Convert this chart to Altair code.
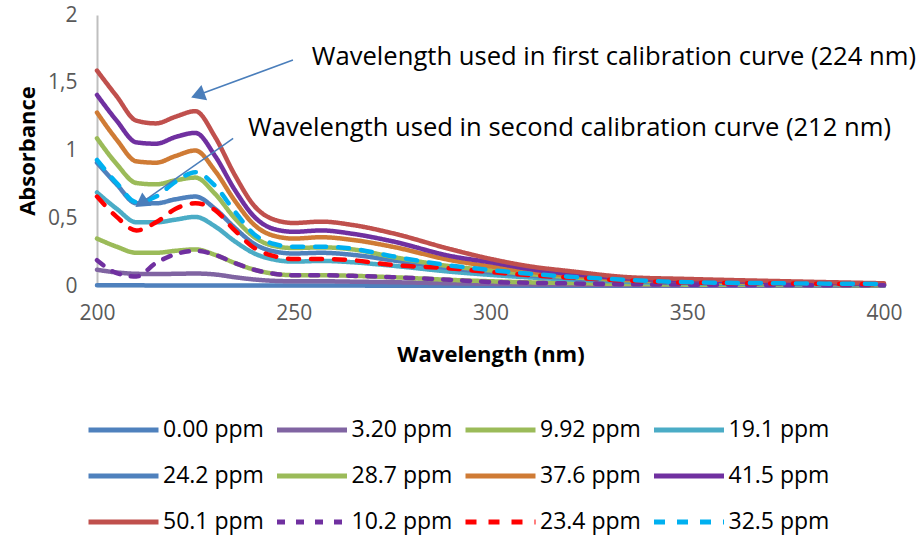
import altair as alt
import pandas as pd

FONT = "Open Sans"

# ---- data ----
wavelengths = [200, 205, 210, 215, 220, 225, 230, 235, 240, 245, 250, 257, 265, 275,
               290, 300, 310, 320, 335, 350, 375, 400]

series_names = ["0.00 ppm", "3.20 ppm", "9.92 ppm", "19.1 ppm", "24.2 ppm", "28.7 ppm",
                "37.6 ppm", "41.5 ppm", "50.1 ppm", "10.2 ppm", "23.4 ppm", "32.5 ppm"]
series_colors = ["#4F81BD", "#8064A2", "#9BBB59", "#4BACC6", "#4F81BD", "#9BBB59",
                 "#CF7B35", "#7030A0", "#C0504D", "#7030A0", "#FF0000", "#00B0F0"]
dashed_names = ["10.2 ppm", "23.4 ppm", "32.5 ppm"]
dash_patterns = [[8, 11], [11, 12], [11, 12]]

s_000 = [0.006, 0.005, 0.005, 0.004, 0.004, 0.004, 0.004, 0.003, 0.003, 0.003, 0.003, 0.003,
         0.003, 0.002, 0.002, 0.002, 0.002, 0.002, 0.002, 0.002, 0.002, 0.002]
s_320 = [0.12, 0.10, 0.09, 0.088, 0.09, 0.092, 0.085, 0.065, 0.048, 0.038, 0.035, 0.035,
         0.032, 0.028, 0.02, 0.016, 0.012, 0.01, 0.007, 0.005, 0.004, 0.003]
s_992 = [0.35, 0.29, 0.245, 0.245, 0.26, 0.27, 0.23, 0.17, 0.12, 0.09, 0.08, 0.08,
         0.075, 0.065, 0.045, 0.035, 0.027, 0.022, 0.015, 0.01, 0.008, 0.005]
s_191 = [0.69, 0.57, 0.47, 0.47, 0.49, 0.51, 0.44, 0.33, 0.24, 0.195, 0.18, 0.185,
         0.175, 0.15, 0.105, 0.082, 0.063, 0.048, 0.03, 0.02, 0.014, 0.008]
s_242 = [0.91, 0.75, 0.61, 0.61, 0.64, 0.66, 0.57, 0.43, 0.31, 0.255, 0.24, 0.245,
         0.23, 0.19, 0.13, 0.10, 0.077, 0.058, 0.036, 0.024, 0.016, 0.01]
s_287 = [1.09, 0.90, 0.76, 0.75, 0.78, 0.80, 0.68, 0.50, 0.36, 0.295, 0.28, 0.285,
         0.27, 0.215, 0.145, 0.115, 0.088, 0.066, 0.042, 0.028, 0.019, 0.012]
s_376 = [1.28, 1.08, 0.92, 0.91, 0.96, 1.00, 0.85, 0.63, 0.45, 0.37, 0.35, 0.36,
         0.34, 0.29, 0.19, 0.145, 0.105, 0.078, 0.048, 0.036, 0.024, 0.013]
s_415 = [1.41, 1.22, 1.06, 1.05, 1.10, 1.13, 0.96, 0.71, 0.51, 0.42, 0.40, 0.41,
         0.385, 0.33, 0.22, 0.175, 0.125, 0.09, 0.055, 0.042, 0.028, 0.015]
s_501 = [1.59, 1.40, 1.22, 1.20, 1.25, 1.29, 1.10, 0.82, 0.59, 0.49, 0.465, 0.475,
         0.45, 0.39, 0.27, 0.20, 0.145, 0.11, 0.065, 0.052, 0.035, 0.02]
s_102 = [0.19, 0.095, 0.07, 0.17, 0.235, 0.26, 0.23, 0.17, 0.12, 0.09, 0.08, 0.08,
         0.075, 0.065, 0.045, 0.03, 0.024, 0.019, 0.013, 0.01, 0.007, 0.005]
s_234 = [0.66, 0.51, 0.41, 0.47, 0.57, 0.61, 0.56, 0.41, 0.28, 0.22, 0.20, 0.20,
         0.19, 0.155, 0.13, 0.103, 0.08, 0.063, 0.04, 0.025, 0.018, 0.013]
s_325 = [0.93, 0.76, 0.62, 0.66, 0.77, 0.84, 0.74, 0.55, 0.38, 0.31, 0.29, 0.29,
         0.275, 0.22, 0.15, 0.118, 0.09, 0.069, 0.045, 0.028, 0.02, 0.015]

series_values = [s_000, s_320, s_992, s_191, s_242, s_287, s_376, s_415, s_501,
                 s_102, s_234, s_325]

series_dashes = []
for n in series_names:
    if n in dashed_names:
        series_dashes.append(dash_patterns[dashed_names.index(n)])
    else:
        series_dashes.append([1, 0])

# annotations
ann_texts = ["Wavelength used in first calibration curve (224 nm)",
             "Wavelength used in second calibration curve (212 nm)"]
ann_text_wl = [254.6, 238.4]
ann_text_abs = [1.69, 1.166]
arrow_start_wl = [249.8, 234.6]
arrow_start_abs = [1.668, 1.09]
arrow_head_wl = [226.15, 211.7]
arrow_head_abs = [1.415, 0.622]
arrow_angle = [249.7, 235.0]

# ---- build tables ----
rows = []
for name, vals in zip(series_names, series_values):
    for w, v in zip(wavelengths, vals):
        rows.append({"wl": w, "abs": v, "series": name})
df = pd.DataFrame(rows)

ann_df = pd.DataFrame({"wl": ann_text_wl, "abs": ann_text_abs, "text": ann_texts})
arr_df = pd.DataFrame({"x1": arrow_start_wl, "y1": arrow_start_abs,
                       "x2": arrow_head_wl, "y2": arrow_head_abs, "ang": arrow_angle})

xscale = alt.Scale(domain=[200, 400], nice=False)
yscale = alt.Scale(domain=[0, 2], nice=False)

legend = alt.Legend(title=None, orient="none", legendX=-11, legendY=392, direction="horizontal",
                    columns=4, symbolType="stroke", symbolSize=4900,
                    symbolStrokeWidth=5, labelFontSize=23, labelFont=FONT,
                    labelColor="#000000", labelOffset=2, clipHeight=46,
                    columnPadding=10.5, rowPadding=0, labelLimit=300)

color_enc = alt.Color("series:N", scale=alt.Scale(domain=series_names, range=series_colors),
                      legend=legend)
dash_enc = alt.StrokeDash("series:N", scale=alt.Scale(domain=series_names, range=series_dashes),
                          legend=legend)

x_enc = alt.X("wl:Q", scale=xscale,
              axis=alt.Axis(title="Wavelength (nm)", values=[200, 250, 300, 350, 400],
                            grid=False, ticks=False, labelPadding=16, titlePadding=21,
                            labelFlush=False,
                            domainColor="#BFBFBF", domainWidth=1.5))
y_enc = alt.Y("abs:Q", scale=yscale,
              axis=alt.Axis(title="Absorbance", values=[0, 0.5, 1, 1.5, 2], grid=False,
                            ticks=False, labelPadding=20, titlePadding=8, labelFlush=False,
                            domainColor="#BFBFBF", domainWidth=2,
                            labelExpr="replace(format(datum.value, '.1~f'), '.', ',')"))

line_kw = dict(strokeWidth=4.5, interpolate="monotone", strokeCap="round", strokeJoin="round")

solid = alt.Chart(df).transform_filter(
    alt.FieldOneOfPredicate(field="series", oneOf=[n for n in series_names if n not in dashed_names])
).mark_line(**line_kw).encode(
    x=x_enc, y=y_enc, color=color_enc, strokeDash=dash_enc, detail="series:N"
)
dashed = alt.Chart(df).transform_filter(
    alt.FieldOneOfPredicate(field="series", oneOf=dashed_names)
).mark_line(**line_kw).encode(
    x=x_enc, y=y_enc, color=color_enc, strokeDash=dash_enc, detail="series:N"
)

arrows = alt.Chart(arr_df).mark_rule(color="#4A7EBB", strokeWidth=1.5).encode(
    x=alt.X("x1:Q", scale=xscale), y=alt.Y("y1:Q", scale=yscale),
    x2="x2:Q", y2="y2:Q")
heads = alt.Chart(arr_df).mark_point(shape="triangle", filled=True, size=260,
                                     color="#4A7EBB", opacity=1).encode(
    x=alt.X("x2:Q", scale=xscale), y=alt.Y("y2:Q", scale=yscale),
    angle=alt.Angle("ang:Q", scale=None))
texts = alt.Chart(ann_df).mark_text(align="left", baseline="middle", fontSize=25.6, font=FONT,
                                    color="#000000").encode(
    x=alt.X("wl:Q", scale=xscale), y=alt.Y("abs:Q", scale=yscale), text="text:N")

chart = alt.layer(solid, dashed, arrows, heads, texts).properties(
    width=787, height=271,
    background="white",
    autosize=alt.AutoSizeParams(type="none"),
    padding={"left": 97, "top": 15, "right": 40, "bottom": 255},
).configure_view(stroke=None).configure_axis(
    labelFont=FONT, labelFontSize=21, labelColor="#595959",
    titleFont=FONT, titleFontSize=22, titleFontWeight="bold", titleColor="#000000"
)

chart.save("out.html", embed_options={"renderer": "svg", "actions": False})
